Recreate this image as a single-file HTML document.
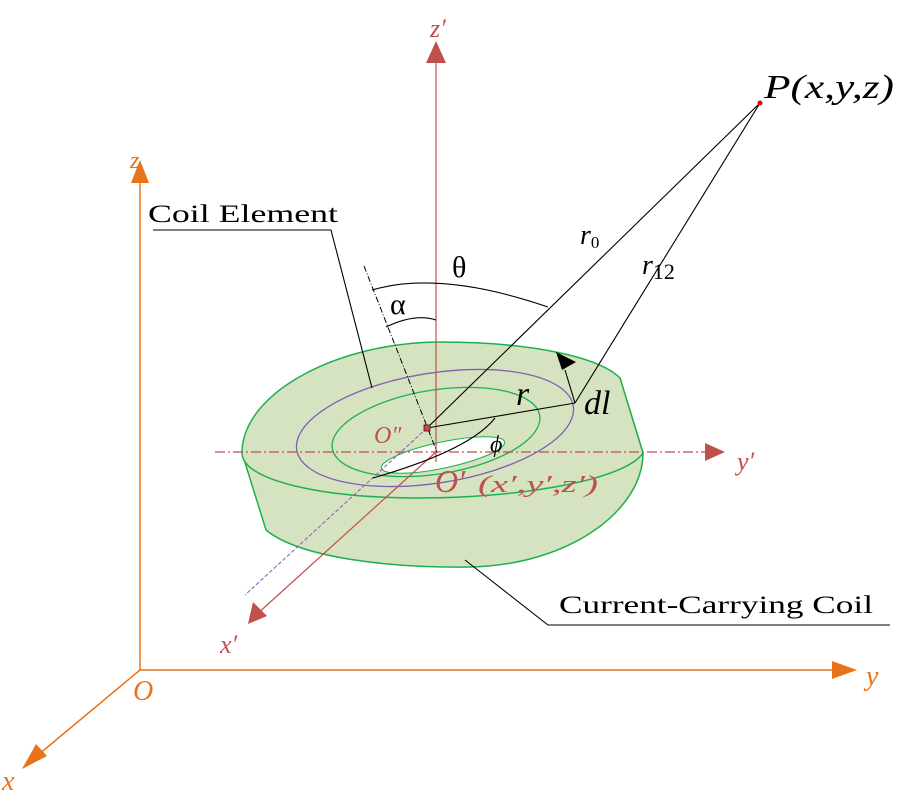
<!DOCTYPE html>
<html><head><meta charset="utf-8"><style>
html,body{margin:0;padding:0;background:#fff;width:900px;height:800px;overflow:hidden}
svg{display:block}
text{font-family:"Liberation Serif",serif}
</style></head><body>
<svg width="900" height="800" viewBox="0 0 900 800" xmlns="http://www.w3.org/2000/svg">
<g stroke="#e8731a" stroke-width="1.5" fill="none">
<line x1="140" y1="670" x2="140" y2="180"/>
<line x1="140" y1="670" x2="835" y2="670"/>
<line x1="140" y1="670" x2="38" y2="755"/>
</g>
<g fill="#e8731a">
<polygon points="140,160 131,183 149,183"/>
<polygon points="857,670 832,661 832,679"/>
<polygon points="22,769 36,744 47,756"/>
<text x="130" y="168" font-size="24" font-style="italic">z</text>
<text x="866" y="685" font-size="28" font-style="italic">y</text>
<text x="2" y="790" font-size="28" font-style="italic">x</text>
<text x="133" y="700" font-size="28" font-style="italic">O</text>
</g>
<path d="M242,453 L266,530 C300,558 390,568 470,567 C570,565 643,510 643,453 L620,378 Z" fill="#d6e3c0" stroke="#1db04f" stroke-width="1.5"/>
<path d="M242,453 C242,392 340,342 440,342 C535,342 600,358 620,378 L643,453 C625,480 520,498 420,498 C320,498 242,480 242,453 Z" fill="#d6e3c0" stroke="#1db04f" stroke-width="1.5"/>
<ellipse cx="435" cy="428" rx="140" ry="55" transform="rotate(-9 435 428)" fill="none" stroke="#8060b0" stroke-width="1.3"/>
<ellipse cx="436" cy="432" rx="105" ry="42" transform="rotate(-9 436 432)" fill="none" stroke="#1db04f" stroke-width="1.3"/>
<ellipse cx="443" cy="455" rx="63" ry="13" transform="rotate(-12 443 455)" fill="#fff" stroke="#1db04f" stroke-width="1"/>
<g stroke="#c0504d" stroke-width="1.2" fill="none">
<line x1="436" y1="462" x2="436" y2="62"/>
<line x1="215" y1="452" x2="705" y2="452" stroke-dasharray="10,3,2,3"/>
<line x1="436" y1="452" x2="256" y2="615"/>
</g>
<g fill="#c0504d">
<polygon points="436,41 426,63 446,63"/>
<polygon points="725,452 705,443 705,461"/>
<polygon points="248,624 253,602 267,616"/>
<text x="430" y="37" font-size="26" font-style="italic">z′</text>
<text x="737" y="470" font-size="26" font-style="italic">y′</text>
<text x="220" y="653" font-size="26" font-style="italic">x′</text>
<text x="374" y="443" font-size="24" font-style="italic">O″</text>
<text x="435" y="492" font-size="32" font-style="italic">O′</text>
<text x="478" y="492" font-size="24" font-style="italic" textLength="120" lengthAdjust="spacingAndGlyphs">(x′,y′,z′)</text>
</g>
<line x1="427" y1="428" x2="245" y2="595" stroke="#8060b0" stroke-width="1" stroke-dasharray="4,2"/>
<line x1="364" y1="266" x2="437" y2="452" stroke="#000" stroke-width="1" stroke-dasharray="6,2,1,2"/>
<g stroke="#000" stroke-width="1.1" fill="none">
<line x1="427" y1="428" x2="760" y2="103"/>
<line x1="575" y1="403" x2="760" y2="103"/>
<line x1="427" y1="428" x2="575" y2="403"/>
<line x1="575" y1="403" x2="565" y2="370"/>
<polyline points="153,230 331,230 372,388"/>
<polyline points="465,560 548,625 890,625"/>
<path d="M372,290 Q440,270 548,307"/>
<path d="M386,327 Q415,313 436,320"/>
<path d="M495,418 Q470,450 373,478"/>
</g>
<polygon points="556,352 576,362 562,370" fill="#000"/>
<rect x="424" y="425" width="6" height="6" fill="#c0504d" stroke="#600" stroke-width="0.8"/>
<circle cx="760" cy="103" r="2.5" fill="#e00"/>
<g fill="#000">
<text x="148" y="222" font-size="25" textLength="190" lengthAdjust="spacingAndGlyphs">Coil Element</text>
<text x="559" y="613" font-size="25" textLength="314" lengthAdjust="spacingAndGlyphs">Current-Carrying Coil</text>
<text x="764" y="98" font-size="34" font-style="italic" textLength="130" lengthAdjust="spacingAndGlyphs">P(x,y,z)</text>
<text x="452" y="277" font-size="30">θ</text>
<text x="390" y="314" font-size="30">α</text>
<text x="580" y="244" font-size="28" font-style="italic">r<tspan font-size="17" font-style="normal" dy="4">0</tspan></text>
<text x="642" y="274" font-size="28" font-style="italic">r<tspan font-size="22" font-style="normal" dy="5">12</tspan></text>
<text x="516" y="405" font-size="34" font-style="italic">r</text>
<text x="584" y="414" font-size="34" font-style="italic">dl</text>
<text x="490" y="452" font-size="24" font-style="italic">ϕ</text>
</g>
</svg>
</body></html>
